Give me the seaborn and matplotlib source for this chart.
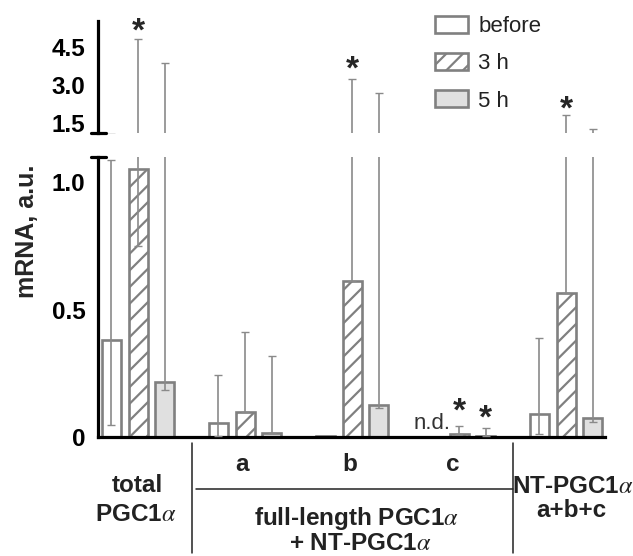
import numpy as np
import pandas as pd
import matplotlib.pyplot as plt
import seaborn as sns
from matplotlib.patches import Patch
from matplotlib.transforms import blended_transform_factory

groups = ['total', 'a', 'b', 'c', 'NT']
times = ['before', '3 h', '5 h']

# bar heights
before = [0.38, 0.056, 0.004, np.nan, 0.089]
h3 = [1.054, 0.10, 0.614, 0.012, 0.566]
h5 = [0.218, 0.015, 0.126, 0.003, 0.076]

# error bar ends
before_lo = [0.047, 0.004, np.nan, np.nan, 0.01]
before_hi = [1.09, 0.244, np.nan, np.nan, 0.39]
h3_lo = [0.75, 0.10, 0.614, 0.012, 0.566]
h3_hi = [4.79, 0.414, 3.22, 0.045, 1.83]
h5_lo = [0.185, 0.015, 0.114, 0.003, 0.06]
h5_hi = [3.87, 0.32, 2.67, 0.037, 1.27]

# significance stars: (group index, time, y of star)
stars_hi = [(0, '3 h', 5.35), (2, '3 h', 3.86), (4, '3 h', 2.29)]
stars_lo = [(3, '3 h', 0.126), (3, '5 h', 0.098)]

sns.set_style('white')
plt.rcParams['font.family'] = ['Liberation Sans', 'DejaVu Sans']
plt.rcParams['mathtext.fontset'] = 'stix'
plt.rcParams['hatch.linewidth'] = 1.6

gray = '#808080'
ecol = '#8a8a8a'

df = pd.DataFrame({
    'group': groups * 3,
    'time': [t for t in times for _ in groups],
    'value': before + h3 + h5,
})
series = {'before': (before, before_lo, before_hi),
          '3 h': (h3, h3_lo, h3_hi),
          '5 h': (h5, h5_lo, h5_hi)}
offsets = {'before': -0.25, '3 h': 0.0, '5 h': 0.25}

W, H = 633, 556
fig = plt.figure(figsize=(W / 100, H / 100), dpi=100)
ax_lo = fig.add_axes([98 / W, (H - 437) / H, 507 / W, 280 / H])
ax_hi = fig.add_axes([98 / W, (H - 132.7) / H, 507 / W, 112 / H])

sns.barplot(data=df, x='group', y='value', hue='time', order=groups, hue_order=times,
            palette={'before': 'white', '3 h': 'white', '5 h': '#e0e0e0'},
            saturation=1, width=0.75, gap=0.29, errorbar=None, legend=False,
            edgecolor=gray, linewidth=1.9, ax=ax_lo)
for bar in ax_lo.containers[1]:
    bar.set_hatch('//')

for ax in (ax_lo, ax_hi):
    for t in times:
        val, lo, hi = (np.array(s, dtype=float) for s in series[t])
        ok = ~np.isnan(hi)
        x = np.arange(len(groups))[ok] + offsets[t]
        ax.errorbar(x, val[ok], yerr=[val[ok] - lo[ok], hi[ok] - val[ok]], fmt='none',
                    ecolor=ecol, elinewidth=1.2, capsize=2.8, capthick=1.0, zorder=3)
    ax.set_xlim(-0.374, 4.364)
    ax.set_xlabel('')
    ax.set_ylabel('')
    ax.set_xticks([])
    ax.spines['left'].set_linewidth(2.3)
    ax.spines['left'].set_color('black')
    ax.tick_params(axis='y', length=8, width=2.3, pad=1, labelsize=17.5, colors='black')
    for s in ['top', 'right']:
        ax.spines[s].set_visible(False)

ax_lo.set_ylim(0, 1.1)
ax_lo.set_yticks([0, 0.5, 1.0], ['0', '0.5', '1.0'], fontweight='bold')
ax_lo.spines['bottom'].set_linewidth(2.3)
ax_lo.spines['bottom'].set_color('black')

ax_hi.set_ylim(1.13, 5.52)
ax_hi.set_yticks([1.5, 3.0, 4.5], ['1.5', '3.0', '4.5'], fontweight='bold')
ax_hi.spines['bottom'].set_visible(False)

# break marks
ax_lo.plot([-0.014, 0.016], [1, 1], transform=ax_lo.transAxes, clip_on=False, color='black', lw=2.3)
ax_hi.plot([-0.014, 0.016], [0, 0], transform=ax_hi.transAxes, clip_on=False, color='black', lw=2.3)

for g, t, y in stars_hi:
    ax_hi.annotate('*', (g + offsets[t], y), xytext=(0, -5), textcoords='offset points',
                   ha='center', va='center', fontsize=24, fontweight='bold')
for g, t, y in stars_lo:
    ax_lo.annotate('*', (g + offsets[t], y), xytext=(0, -5), textcoords='offset points',
                   ha='center', va='center', fontsize=24, fontweight='bold')
ax_lo.text(3 - 0.25, 0.052, 'n.d.', ha='center', va='center', fontsize=16, color='#333333')

# group separators below the axis
tr = blended_transform_factory(ax_lo.transData, ax_lo.transAxes)
for xs in (0.5, 3.5):
    ax_lo.plot([xs, xs], [-0.021, -0.414], transform=tr, clip_on=False, color='#222222', lw=1.1)
ax_lo.plot([0.54, 3.5], [-0.186, -0.186], transform=tr, clip_on=False, color='#222222', lw=1.1)

def ftext(x, y, s, **kw):
    fig.text(x / W, 1 - y / H, s, ha='center', va='baseline', fontsize=17.5,
             fontweight='bold', color='#222222', **kw)

ftext(241.7, 470.7, 'a')
ftext(350, 470.7, 'b')
ftext(453, 470.7, 'c')
ftext(137.7, 492.3, 'total')
ftext(136, 520.7, r'PGC1$\alpha$')
ftext(356.5, 525.5, r'full-length PGC1$\alpha$')
ftext(360, 549.5, r'+ NT-PGC1$\alpha$')
ftext(572.5, 493, r'NT-PGC1$\alpha$')
ftext(571, 516.7, 'a+b+c')

fig.text(27.5 / W, 1 - 231 / H, 'mRNA, a.u.', rotation=90, ha='center', va='center',
         fontsize=18, fontweight='bold')

handles = [Patch(facecolor='white', edgecolor=gray, lw=1.9),
           Patch(facecolor='white', edgecolor=gray, lw=1.9, hatch='//'),
           Patch(facecolor='#e0e0e0', edgecolor=gray, lw=1.9)]
leg = fig.legend(handles, times, loc='upper left', bbox_to_anchor=(435 / W, 1 - 16 / H),
                 frameon=False, fontsize=16, handlelength=1.5, handleheight=0.8,
                 handletextpad=0.45, labelspacing=0.72, borderpad=0, borderaxespad=0)
for txt in leg.get_texts():
    txt.set_color('#222222')

fig.savefig('out.png', dpi=100)
